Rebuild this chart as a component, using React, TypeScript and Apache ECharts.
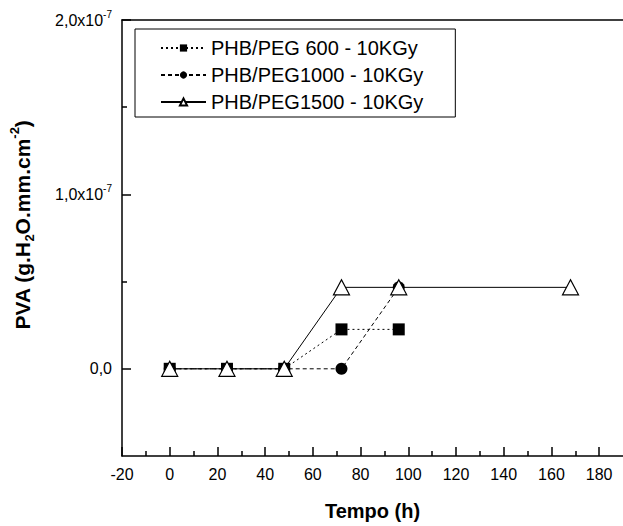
import React, { useEffect, useRef } from 'react';
import * as echarts from 'echarts';

const FONT = "'Liberation Sans', Arial, Helvetica, sans-serif";

// Data (time in hours, PVA in g.H2O.mm.cm-2)
const time600 = [0, 24, 48, 72, 96];
const pva600 = [0, 0, 0, 2.26e-8, 2.26e-8];
const time1000 = [0, 24, 48, 72, 96];
const pva1000 = [0, 0, 0, 0, 4.67e-8];
const time1500 = [0, 24, 48, 72, 96, 168];
const pva1500 = [0, 0, 0, 4.67e-8, 4.67e-8, 4.67e-8];

const seriesNames = ['PHB/PEG 600 - 10KGy', 'PHB/PEG1000 - 10KGy', 'PHB/PEG1500 - 10KGy'];

// Axis ticks
const xMajorTicks = [-20, 0, 20, 40, 60, 80, 100, 120, 140, 160, 180];
const xMinorTicks = [-10, 10, 30, 50, 70, 90, 110, 130, 150, 170];
const yMajorTicks = [0, 1e-7, 2e-7];
const yMinorTicks = [0.5e-7, 1.5e-7];
const X_MIN = -20;
const X_MAX = 190;
const Y_MIN = -0.5e-7;
const Y_MAX = 2e-7;

const pairs = (xs: number[], ys: number[]) => xs.map((x, i) => [x, ys[i]]);

export default function App() {
  const ref = useRef<HTMLDivElement>(null);
  useEffect(() => {
    if (!ref.current) return;
    const chart = echarts.init(ref.current, null, { renderer: 'svg' });
    const axisLine = { show: true, onZero: false, lineStyle: { color: '#000', width: 1.5 } };
    const noLine = { show: false, onZero: false };
    const option: any = {
      animation: false,
      backgroundColor: '#fff',
      textStyle: { fontFamily: FONT, color: '#000' },
      grid: { left: 121, right: -12, top: 20, bottom: 63, containLabel: false },
      legend: {
        orient: 'vertical',
        left: 135,
        top: 29,
        padding: [9, 32, 5, 25],
        itemGap: 7,
        itemWidth: 45,
        itemHeight: 9,
        borderColor: '#000',
        borderWidth: 1,
        textStyle: { fontSize: 20, fontFamily: FONT, color: '#000' },
        data: seriesNames,
      },
      xAxis: [
        {
          type: 'value',
          min: X_MIN,
          max: X_MAX,
          position: 'bottom',
          axisLine,
          axisTick: { show: true, inside: true, length: 9, customValues: xMajorTicks, lineStyle: { color: '#000', width: 1.5 } },
          axisLabel: { show: true, customValues: xMajorTicks, fontSize: 16, color: '#000', fontFamily: FONT, margin: 10 },
          splitLine: { show: false },
          name: 'Tempo (h)',
          nameLocation: 'middle',
          nameGap: 45,
          nameTextStyle: { fontSize: 20, fontWeight: 'bold', color: '#000', fontFamily: FONT },
        },
        {
          type: 'value',
          min: X_MIN,
          max: X_MAX,
          position: 'bottom',
          axisLine: noLine,
          axisTick: { show: true, inside: true, length: 5, customValues: xMinorTicks, lineStyle: { color: '#000', width: 1.5 } },
          axisLabel: { show: false },
          splitLine: { show: false },
        },
        {
          type: 'value',
          min: X_MIN,
          max: X_MAX,
          position: 'top',
          axisLine,
          axisTick: { show: false },
          axisLabel: { show: false },
          splitLine: { show: false },
        },
      ],
      yAxis: [
        {
          type: 'value',
          min: Y_MIN,
          max: Y_MAX,
          position: 'left',
          axisLine,
          axisTick: { show: true, inside: true, length: 9, customValues: yMajorTicks, lineStyle: { color: '#000', width: 1.5 } },
          axisLabel: {
            show: true,
            customValues: yMajorTicks,
            margin: 10,
            formatter: (v: number) => {
              if (Math.abs(v) < 1e-12) return '{b|0,0}';
              const m = v / 1e-7;
              return `{b|${m.toFixed(1).replace('.', ',')}x10}{s|-7}`;
            },
            rich: {
              b: { fontSize: 16, color: '#000', fontFamily: FONT, lineHeight: 22 },
              s: { fontSize: 10, color: '#000', fontFamily: FONT, verticalAlign: 'top', lineHeight: 22 },
            },
          },
          splitLine: { show: false },
          name: '{n|PVA (g.H}{sub|2}{n|O.mm.cm}{sup|-2}{n|)}',
          nameLocation: 'middle',
          nameRotate: 90,
          nameGap: 86,
          nameTextStyle: {
            padding: [0, 0, 0, 26],
            rich: {
              n: { fontSize: 21, fontWeight: 'bold', color: '#000', fontFamily: FONT, lineHeight: 28 },
              sub: { fontSize: 13, fontWeight: 'bold', color: '#000', fontFamily: FONT, verticalAlign: 'bottom', lineHeight: 28 },
              sup: { fontSize: 13, fontWeight: 'bold', color: '#000', fontFamily: FONT, verticalAlign: 'top', lineHeight: 28 },
            },
          },
        },
        {
          type: 'value',
          min: Y_MIN,
          max: Y_MAX,
          position: 'left',
          axisLine: noLine,
          axisTick: { show: true, inside: true, length: 5, customValues: yMinorTicks, lineStyle: { color: '#000', width: 1.5 } },
          axisLabel: { show: false },
          splitLine: { show: false },
        },
      ],
      series: [
        {
          name: seriesNames[0],
          type: 'line',
          data: pairs(time600, pva600),
          symbol: 'rect',
          symbolSize: 12,
          itemStyle: { color: '#000', borderColor: '#000', borderWidth: 0 },
          lineStyle: { color: '#000', width: 1, type: [2, 3] },
          z: 2,
        },
        {
          name: seriesNames[1],
          type: 'line',
          data: pairs(time1000, pva1000),
          symbol: 'circle',
          symbolSize: 12,
          itemStyle: { color: '#000', borderColor: '#000', borderWidth: 0 },
          lineStyle: { color: '#000', width: 1, type: [4, 3] },
          z: 3,
        },
        {
          name: seriesNames[2],
          type: 'line',
          data: pairs(time1500, pva1500),
          symbol: 'triangle',
          symbolSize: [16, 15],
          showAllSymbol: true,
          itemStyle: { color: '#fff', borderColor: '#000', borderWidth: 1.2 },
          lineStyle: { color: '#000', width: 1, type: 'solid' },
          z: 4,
        },
      ],
    };
    chart.setOption(option);
    return () => chart.dispose();
  }, []);
  return <div ref={ref} style={{ width: 623, height: 526, position: 'absolute', left: 0, top: 0 }} />;
}
